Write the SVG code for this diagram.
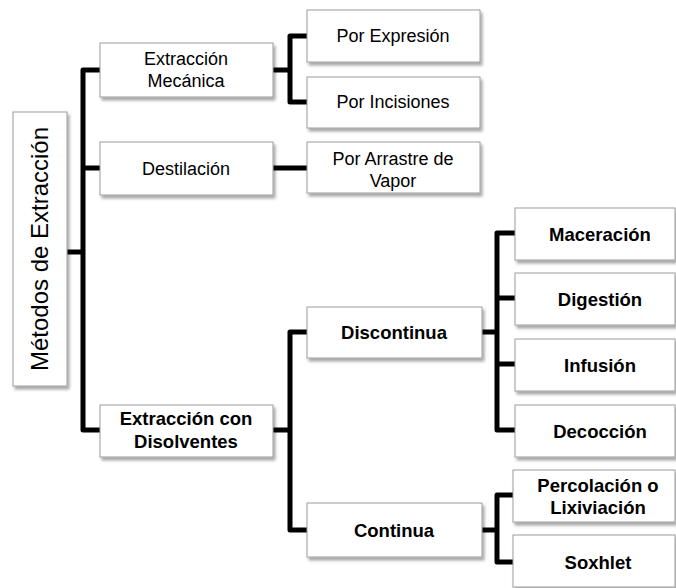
<svg xmlns="http://www.w3.org/2000/svg" width="676" height="588" viewBox="0 0 676 588">
<style>
.box{fill:#ffffff;stroke:#9c9c9c;stroke-width:1;filter:url(#sh)}
.t{font-family:"Liberation Sans",Arial,sans-serif;font-size:18px;fill:#000;text-anchor:middle}
.b{font-weight:bold;font-size:18.5px}
.c{fill:none;stroke:#000;stroke-width:5;stroke-linejoin:round;stroke-linecap:butt}
</style>
<defs>
<filter id="sh" x="-10%" y="-10%" width="130%" height="140%">
<feDropShadow dx="2" dy="3" stdDeviation="1.8" flood-color="#000" flood-opacity="0.35"/>
</filter>
</defs>
<rect width="676" height="588" fill="#fff"/>
<g id="connectors">
<path class="c" d="M67,252 H83"/>
<path class="c" d="M100,70 H83 V430 H100"/>
<path class="c" d="M83,168 H100"/>
<path class="c" d="M273,70 H290"/>
<path class="c" d="M307,36 H290 V102 H307"/>
<path class="c" d="M273,168 H307"/>
<path class="c" d="M273,430 H290"/>
<path class="c" d="M307,332 H290 V530 H307"/>
<path class="c" d="M482,332 H497"/>
<path class="c" d="M515,233 H497 V430 H515"/>
<path class="c" d="M497,298 H515"/>
<path class="c" d="M497,364 H515"/>
<path class="c" d="M482,530 H497"/>
<path class="c" d="M513,495 H497 V562 H513"/>
</g>
<g id="root">
<rect class="box" x="13" y="112" width="54" height="274"/>
<text class="t" style="font-size:24px" transform="translate(48,249) rotate(-90)">Métodos de Extracción</text>
</g>
<g id="mecanica">
<rect class="box" x="100" y="43" width="173" height="54"/>
<text class="t" x="186" y="65">Extracción</text>
<text class="t" x="186" y="87">Mecánica</text>
</g>
<g id="destilacion">
<rect class="box" x="100" y="142" width="173" height="53"/>
<text class="t" x="186" y="175">Destilación</text>
</g>
<g id="disolventes">
<rect class="box" x="100" y="405" width="173" height="52"/>
<text class="t b" x="186" y="425">Extracción con</text>
<text class="t b" x="186" y="448">Disolventes</text>
</g>
<g id="expresion">
<rect class="box" x="307" y="10" width="173" height="52"/>
<text class="t" x="393" y="42">Por Expresión</text>
</g>
<g id="incisiones">
<rect class="box" x="307" y="77" width="173" height="51"/>
<text class="t" x="393" y="108">Por Incisiones</text>
</g>
<g id="arrastre">
<rect class="box" x="307" y="142" width="173" height="51"/>
<text class="t" x="393" y="165">Por Arrastre de</text>
<text class="t" x="393" y="187">Vapor</text>
</g>
<g id="discontinua">
<rect class="box" x="307" y="307" width="175" height="51"/>
<text class="t b" x="394" y="339">Discontinua</text>
</g>
<g id="continua">
<rect class="box" x="307" y="503" width="175" height="54"/>
<text class="t b" x="394" y="537">Continua</text>
</g>
<g id="maceracion">
<rect class="box" x="515" y="208" width="160" height="52"/>
<text class="t b" x="600" y="241">Maceración</text>
</g>
<g id="digestion">
<rect class="box" x="515" y="273" width="160" height="52"/>
<text class="t b" x="600" y="306">Digestión</text>
</g>
<g id="infusion">
<rect class="box" x="515" y="339" width="160" height="52"/>
<text class="t b" x="600" y="372">Infusión</text>
</g>
<g id="decoccion">
<rect class="box" x="515" y="405" width="160" height="52"/>
<text class="t b" x="600" y="438">Decocción</text>
</g>
<g id="percolacion">
<rect class="box" x="513" y="470" width="162" height="52"/>
<text class="t b" x="598" y="492">Percolación o</text>
<text class="t b" x="598" y="514">Lixiviación</text>
</g>
<g id="soxhlet">
<rect class="box" x="513" y="535" width="162" height="52"/>
<text class="t b" x="598" y="569">Soxhlet</text>
</g>
</svg>
